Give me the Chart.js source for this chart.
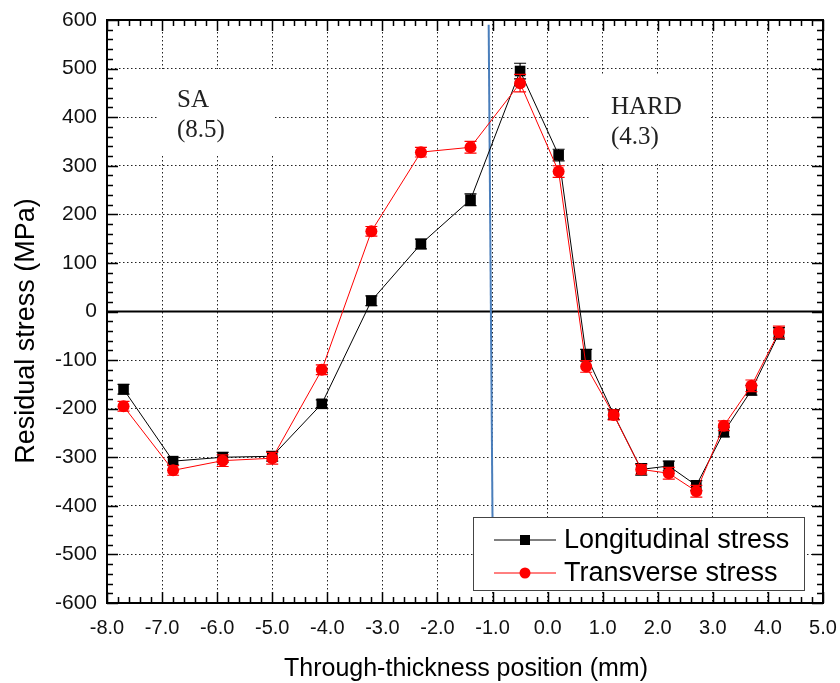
<!DOCTYPE html>
<html>
<head>
<meta charset="utf-8">
<script src="https://cdn.jsdelivr.net/npm/chart.js@4"></script>
<style>
  html, body { margin: 0; padding: 0; background: #fff; }
  #wrap { width: 840px; height: 683px; }
</style>
</head>
<body>
<div id="wrap"><canvas id="stressChart" width="840" height="683"></canvas></div>
<script>
// ── DATA ─────────────────────────────────────────
const positions = [-7.7, -6.8, -5.9, -5.0, -4.1, -3.2, -2.3, -1.4, -0.5, 0.2, 0.7, 1.2, 1.7, 2.2, 2.7, 3.2, 3.7, 4.2];
const longStress = [-160, -308, -300, -298, -190, 22, 139, 230, 495, 322, -90, -212, -325, -318, -358, -248, -162, -45];
const longErr    = [10, 8, 10, 10, 8, 10, 10, 12, 16, 12, 12, 10, 12, 10, 10, 10, 10, 12];
const transStress = [-195, -327, -307, -302, -120, 165, 328, 338, 470, 288, -113, -213, -325, -333, -370, -235, -153, -42];
const transErr    = [10, 10, 12, 12, 10, 10, 10, 12, 18, 12, 12, 10, 10, 12, 12, 10, 12, 12];
const interfaceX = [-1.07, -1.0];
const interfaceY = [590, -430];

const xTicks = { min: -8, max: 5, step: 1, minor: 0.2 };
const yTicks = { min: -600, max: 600, step: 100, minor: 20 };

const seriesLabels = ['Longitudinal stress', 'Transverse stress'];
const zoneLabels = [
  { lines: ['SA', '(8.5)'], box: [157, 69, 273, 155], x: 177, y: 107 },
  { lines: ['HARD', '(4.3)'], box: [590, 75, 710, 164], x: 611, y: 114 },
];

const pts = (xs, ys) => xs.map((x, i) => ({ x, y: ys[i] }));

// ── PLUGIN: grid-erase boxes, zero line, frame, inner ticks ──
const decor = {
  id: 'decor',
  beforeDatasetsDraw(chart) {
    const { ctx, chartArea: a, scales: { x, y } } = chart;
    ctx.save();
    // zone labels (white backdrop hides the dotted grid)
    zoneLabels.forEach(z => {
      ctx.fillStyle = '#fff';
      ctx.fillRect(z.box[0], z.box[1], z.box[2] - z.box[0], z.box[3] - z.box[1]);
      ctx.fillStyle = '#222';
      ctx.font = '25px "Liberation Serif", serif';
      ctx.textBaseline = 'alphabetic';
      ctx.textAlign = 'left';
      z.lines.forEach((t, i) => ctx.fillText(t, z.x, z.y + i * 30));
    });
    // zero line
    const y0 = y.getPixelForValue(0);
    ctx.strokeStyle = '#000';
    ctx.lineWidth = 2;
    ctx.beginPath();
    ctx.moveTo(a.left, y0);
    ctx.lineTo(a.right, y0);
    ctx.stroke();
    ctx.restore();
  },
  afterDatasetDraw(chart, args) {
    const ds = chart.data.datasets[args.index];
    if (!ds.errors) return;
    const { ctx, scales: { x, y } } = chart;
    ctx.save();
    ctx.strokeStyle = ds.borderColor;
    ctx.lineWidth = 1.2;
    ds.data.forEach((p, i) => {
      const px = x.getPixelForValue(p.x);
      const top = y.getPixelForValue(p.y + ds.errors[i]);
      const bot = y.getPixelForValue(p.y - ds.errors[i]);
      ctx.beginPath();
      ctx.moveTo(px, top); ctx.lineTo(px, bot);
      ctx.moveTo(px - 6, top); ctx.lineTo(px + 6, top);
      ctx.moveTo(px - 6, bot); ctx.lineTo(px + 6, bot);
      ctx.stroke();
    });
    ctx.restore();
  },
  afterDraw(chart) {
    const { ctx, chartArea: a, scales: { x, y } } = chart;
    ctx.save();
    ctx.strokeStyle = '#000';
    ctx.lineWidth = 1.5;
    // inner ticks, all four sides
    ctx.beginPath();
    for (let v = xTicks.min; v <= xTicks.max + 1e-9; v += xTicks.minor) {
      const r = Math.round(v * 5) / 5;
      const major = Math.abs(r - Math.round(r)) < 1e-6;
      const len = major ? 11 : 6;
      const px = Math.round(x.getPixelForValue(r)) + 0.5;
      ctx.moveTo(px, a.bottom); ctx.lineTo(px, a.bottom - len);
      ctx.moveTo(px, a.top); ctx.lineTo(px, a.top + len);
    }
    for (let v = yTicks.min; v <= yTicks.max; v += yTicks.minor) {
      const major = v % yTicks.step === 0;
      const len = major ? 11 : 6;
      const py = Math.round(y.getPixelForValue(v)) + 0.5;
      ctx.moveTo(a.left, py); ctx.lineTo(a.left + len, py);
      ctx.moveTo(a.right, py); ctx.lineTo(a.right - len, py);
    }
    ctx.stroke();
    // frame
    ctx.lineWidth = 2;
    ctx.strokeRect(a.left, a.top, a.right - a.left, a.bottom - a.top);

    // legend
    const lx = 473, ly = 517, lw = 331, lh = 73;
    ctx.fillStyle = '#fff';
    ctx.fillRect(lx, ly, lw, lh);
    ctx.strokeStyle = '#444';
    ctx.lineWidth = 1;
    ctx.strokeRect(lx + 0.5, ly + 0.5, lw, lh);
    const rows = [
      { label: seriesLabels[0], color: '#000', shape: 'rect', yy: 540 },
      { label: seriesLabels[1], color: '#ff0000', shape: 'circle', yy: 573 },
    ];
    rows.forEach(r => {
      ctx.strokeStyle = r.color;
      ctx.fillStyle = r.color;
      ctx.lineWidth = 1;
      ctx.beginPath();
      ctx.moveTo(494, r.yy); ctx.lineTo(556, r.yy);
      ctx.stroke();
      if (r.shape === 'rect') ctx.fillRect(520, r.yy - 5, 10, 10);
      else { ctx.beginPath(); ctx.arc(525, r.yy, 5.5, 0, Math.PI * 2); ctx.fill(); }
      ctx.fillStyle = '#000';
      ctx.font = '27px "Liberation Sans", Arial, sans-serif';
      ctx.textBaseline = 'middle';
      ctx.textAlign = 'left';
      ctx.fillText(r.label, 564, r.yy + 1);
    });

    // axis titles
    ctx.fillStyle = '#000';
    ctx.textAlign = 'center';
    ctx.textBaseline = 'alphabetic';
    ctx.font = '25px "Liberation Sans", Arial, sans-serif';
    ctx.fillText('Through-thickness position (mm)', 466, 676);
    ctx.translate(34, 331);
    ctx.rotate(-Math.PI / 2);
    ctx.font = '27px "Liberation Sans", Arial, sans-serif';
    ctx.fillText('Residual stress (MPa)', 0, 0);
    ctx.restore();
  },
};

// ── CHART ────────────────────────────────────────
const gridColor = (lo, hi, skipZero) => c => {
  const v = c.tick.value;
  if (v <= lo || v >= hi || (skipZero && v === 0)) return 'rgba(0,0,0,0)';
  return '#222';
};

new Chart(document.getElementById('stressChart'), {
  type: 'scatter',
  data: {
    datasets: [
      {
        label: 'interface',
        data: pts(interfaceX, interfaceY),
        showLine: true,
        borderColor: '#4a7ebb',
        borderWidth: 2,
        pointRadius: 0,
        order: 3,
      },
      {
        label: seriesLabels[0],
        data: pts(positions, longStress),
        errors: longErr,
        showLine: true,
        borderColor: '#000',
        backgroundColor: '#000',
        borderWidth: 1,
        pointStyle: 'rect',
        pointRadius: 7.5,
        pointBorderWidth: 0,
        order: 2,
      },
      {
        label: seriesLabels[1],
        data: pts(positions, transStress),
        errors: transErr,
        showLine: true,
        borderColor: '#ff0000',
        backgroundColor: '#ff0000',
        borderWidth: 1,
        pointStyle: 'circle',
        pointRadius: 6,
        pointBorderWidth: 0,
        order: 1,
      },
    ],
  },
  options: {
    responsive: false,
    animation: false,
    layout: { padding: { top: 20, right: 17, left: 0, bottom: 0 } },
    plugins: { legend: { display: false }, tooltip: { enabled: false } },
    scales: {
      x: {
        type: 'linear',
        min: xTicks.min,
        max: xTicks.max,
        afterFit: s => { s.height = 80; s.paddingLeft = 0; s.paddingRight = 0; },
        ticks: {
          stepSize: xTicks.step,
          padding: 13,
          color: '#111',
          font: { family: '"Liberation Sans", Arial, sans-serif', size: 20 },
          callback: v => v.toFixed(1),
        },
        grid: { drawTicks: false, lineWidth: 1, color: gridColor(xTicks.min, xTicks.max, false) },
        border: { display: false, dash: [1.5, 2.5] },
      },
      y: {
        min: yTicks.min,
        max: yTicks.max,
        afterFit: s => { s.width = 107; s.paddingTop = 0; s.paddingBottom = 0; },
        ticks: {
          stepSize: yTicks.step,
          padding: 10,
          color: '#111',
          font: { family: '"Liberation Sans", Arial, sans-serif', size: 21 },
        },
        grid: { drawTicks: false, lineWidth: 1, color: gridColor(yTicks.min, yTicks.max, true) },
        border: { display: false, dash: [1.5, 2.5] },
      },
    },
  },
  plugins: [decor],
});
</script>
</body>
</html>
